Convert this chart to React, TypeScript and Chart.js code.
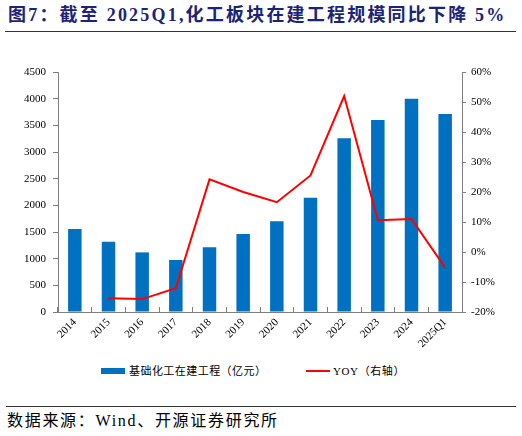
import React, { useEffect, useRef } from "react";
import { Chart, registerables } from "chart.js";

Chart.register(...registerables);

const categories = ["2014", "2015", "2016", "2017", "2018", "2019", "2020", "2021", "2022", "2023", "2024", "2025Q1"];
const constructionValues = [1556, 1318, 1118, 975, 1213, 1462, 1700, 2144, 3256, 3600, 4000, 3712];
const yoyValues: (number | null)[] = [null, -15.4, -15.7, -12.1, 24.2, 20.0, 16.6, 25.5, 52.0, 10.6, 11.0, -5.2];
const barLabel = "基础化工在建工程（亿元）";
const lineLabel = "YOY（右轴）";
const titleText = "图7：截至 2025Q1,化工板块在建工程规模同比下降 5%";
const sourceText = "数据来源：Wind、开源证券研究所";

const SERIF = "'Liberation Serif', 'Noto Sans CJK SC', serif";
const BLUE = "#0070C0";
const RED = "#FF0000";
const AXIS = "#7f7f7f";

export default function App() {
  const canvasRef = useRef<HTMLCanvasElement | null>(null);

  useEffect(() => {
    const canvas = canvasRef.current;
    if (!canvas) return;
    const chart = new Chart(canvas, {
      type: "bar",
      data: {
        labels: categories,
        datasets: [
          {
            type: "bar",
            label: barLabel,
            data: constructionValues,
            backgroundColor: BLUE,
            yAxisID: "y",
            barPercentage: 0.4,
            categoryPercentage: 1,
            order: 2,
          },
          {
            type: "line",
            label: lineLabel,
            data: yoyValues,
            borderColor: RED,
            backgroundColor: RED,
            borderWidth: 2,
            pointRadius: 0,
            tension: 0,
            yAxisID: "y1",
            order: 1,
          } as any,
        ],
      },
      options: {
        responsive: false,
        animation: false,
        maintainAspectRatio: false,
        layout: { padding: { top: 32, left: 0, right: 0, bottom: 0 } },
        plugins: {
          legend: { display: false },
          tooltip: { enabled: false },
          title: { display: false },
        },
        scales: {
          x: {
            offset: true,
            border: { display: true, color: AXIS, width: 1 },
            grid: {
              offset: true,
              drawOnChartArea: false,
              drawTicks: true,
              tickLength: -5,
              color: AXIS,
            },
            ticks: {
              color: "#000",
              font: { family: SERIF, size: 11 },
              minRotation: 45,
              maxRotation: 45,
              padding: 9,
              autoSkip: false,
            },
            afterFit: (scale: any) => {
              scale.height = 48;
            },
          },
          y: {
            position: "left",
            min: 0,
            max: 4500,
            border: { display: true, color: AXIS, width: 1 },
            grid: { drawOnChartArea: false, drawTicks: true, tickLength: 5, color: AXIS },
            ticks: {
              stepSize: 500,
              color: "#000",
              font: { family: SERIF, size: 11 },
              padding: 7,
              callback: (v: any) => String(v),
            },
            afterFit: (scale: any) => {
              scale.width = 58;
            },
          },
          y1: {
            position: "right",
            min: -20,
            max: 60,
            border: { display: true, color: AXIS, width: 1 },
            grid: { drawOnChartArea: false, drawTicks: true, tickLength: 4, color: AXIS },
            ticks: {
              stepSize: 10,
              color: "#000",
              font: { family: SERIF, size: 11 },
              padding: 5,
              callback: (v: any) => `${v}%`,
            },
            afterFit: (scale: any) => {
              scale.width = 60;
            },
          },
        },
      },
    });
    return () => chart.destroy();
  }, []);

  return (
    <div style={{ position: "absolute", left: 0, top: 0, width: 522, height: 436, background: "#fff", fontFamily: SERIF }}>
      <div
        style={{
          position: "absolute",
          left: 8,
          top: 4,
          fontSize: 18,
          fontWeight: "bold",
          color: "#1B2476",
          whiteSpace: "nowrap",
          lineHeight: "22px",
          letterSpacing: "2.2px",
        }}
      >
        {titleText}
      </div>
      <div style={{ position: "absolute", left: 5, top: 31, width: 511, height: 1, background: "#333" }} />
      <canvas ref={canvasRef} width={522} height={320} style={{ position: "absolute", left: 0, top: 40, width: 522, height: 320 }} />
      <div style={{ position: "absolute", left: 101, top: 368, width: 24, height: 6, background: BLUE }} />
      <div style={{ position: "absolute", left: 129, top: 363, fontSize: 11, lineHeight: "16px", color: "#000", whiteSpace: "nowrap", letterSpacing: "0.45px" }}>{barLabel}</div>
      <div style={{ position: "absolute", left: 306, top: 370, width: 24, height: 2, background: RED }} />
      <div style={{ position: "absolute", left: 333, top: 363, fontSize: 11, lineHeight: "16px", color: "#000", whiteSpace: "nowrap", letterSpacing: "0.6px" }}>{lineLabel}</div>
      <div style={{ position: "absolute", left: 6, top: 406, width: 510, height: 1, background: "#333" }} />
      <div style={{ position: "absolute", left: 7, top: 411, fontSize: 16, lineHeight: "20px", color: "#000", whiteSpace: "nowrap", letterSpacing: "1.7px" }}>{sourceText}</div>
    </div>
  );
}
